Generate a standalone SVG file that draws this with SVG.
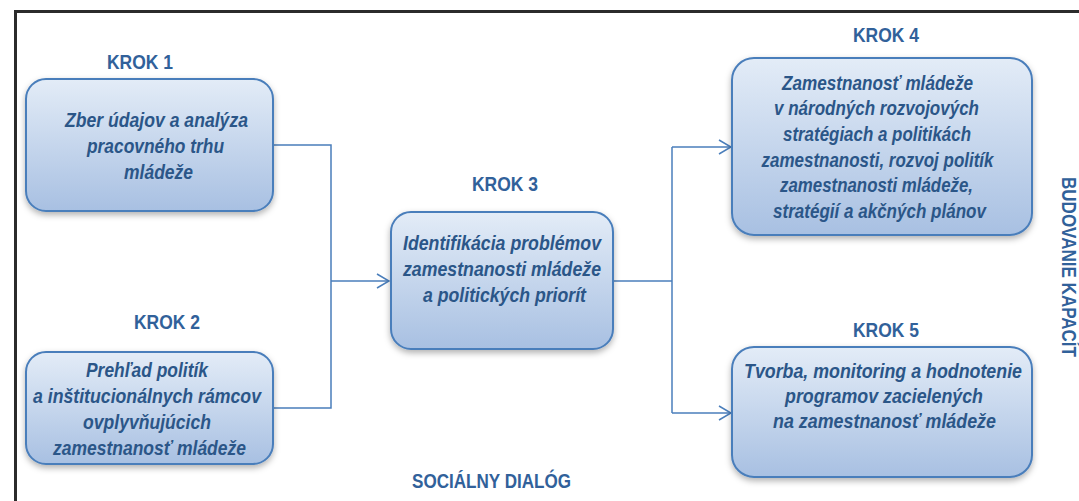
<svg xmlns="http://www.w3.org/2000/svg" width="1079" height="501" viewBox="0 0 1079 501">
<style>
.box{fill:url(#g);stroke:#4a7ebb;stroke-width:2;filter:url(#sh)}
.t{font-family:"Liberation Sans",Arial,sans-serif;font-weight:bold;font-style:italic;font-size:19.5px;fill:#2b5688;text-anchor:middle}
.k{font-family:"Liberation Sans",Arial,sans-serif;font-weight:bold;font-size:21px;fill:#31619a;text-anchor:middle}
.c{fill:none;stroke:#4a7ebb;stroke-width:1.5}
</style>
<defs>
<linearGradient id="g" x1="0" y1="0" x2="0" y2="1">
<stop offset="0" stop-color="#e3ecf7"/>
<stop offset="1" stop-color="#a8c0e2"/>
</linearGradient>
<filter id="sh" x="-10%" y="-10%" width="120%" height="130%">
<feDropShadow dx="0" dy="3" stdDeviation="3" flood-color="#000" flood-opacity="0.3"/>
</filter>
<marker id="a" viewBox="0 0 14 16" refX="13" refY="8" markerWidth="14" markerHeight="16" markerUnits="userSpaceOnUse" orient="auto">
<path d="M1,1 L13,8 L1,15" fill="none" stroke="#4a7ebb" stroke-width="1.5"/>
</marker>
</defs>
<rect width="1079" height="501" fill="#fff"/>
<path d="M15.5,501 V11.5 H1079" fill="none" stroke="#2b2b2b" stroke-width="3"/>
<g id="connectors">
<path class="c" d="M273,145 H331 V408 H273"/>
<path class="c" d="M331,281 H389" marker-end="url(#a)"/>
<path class="c" d="M613,281 H672"/>
<path class="c" d="M672,147 V413"/>
<path class="c" d="M672,147 H731" marker-end="url(#a)"/>
<path class="c" d="M672,413 H731" marker-end="url(#a)"/>
</g>
<g id="krok1">
<text class="k" x="140" y="69" textLength="66" lengthAdjust="spacingAndGlyphs">KROK 1</text>
<rect class="box" x="26" y="79" width="247" height="132" rx="20"/>
<text class="t" x="156.5" y="127" textLength="183" lengthAdjust="spacingAndGlyphs">Zber údajov a analýza</text>
<text class="t" x="155.5" y="153" textLength="137" lengthAdjust="spacingAndGlyphs">pracovného trhu</text>
<text class="t" x="158.5" y="179" textLength="69" lengthAdjust="spacingAndGlyphs">mládeže</text>
</g>
<g id="krok2">
<text class="k" x="167" y="329" textLength="66" lengthAdjust="spacingAndGlyphs">KROK 2</text>
<rect class="box" x="26" y="352" width="247" height="112" rx="20"/>
<text class="t" x="147" y="377" textLength="122" lengthAdjust="spacingAndGlyphs">Prehľad politík</text>
<text class="t" x="147" y="403" textLength="228" lengthAdjust="spacingAndGlyphs">a inštitucionálnych rámcov</text>
<text class="t" x="147" y="429" textLength="128" lengthAdjust="spacingAndGlyphs">ovplyvňujúcich</text>
<text class="t" x="149.5" y="455" textLength="193" lengthAdjust="spacingAndGlyphs">zamestnanosť mládeže</text>
</g>
<g id="krok3">
<text class="k" x="505" y="191" textLength="66" lengthAdjust="spacingAndGlyphs">KROK 3</text>
<rect class="box" x="391" y="212" width="222" height="137" rx="20"/>
<text class="t" x="502" y="250" textLength="198" lengthAdjust="spacingAndGlyphs">Identifikácia problémov</text>
<text class="t" x="502" y="276" textLength="198" lengthAdjust="spacingAndGlyphs">zamestnanosti mládeže</text>
<text class="t" x="504.5" y="302" textLength="163" lengthAdjust="spacingAndGlyphs">a politických priorít</text>
</g>
<g id="krok4">
<text class="k" x="886" y="42" textLength="66" lengthAdjust="spacingAndGlyphs">KROK 4</text>
<rect class="box" x="732" y="58" width="300" height="177" rx="22"/>
<text class="t" x="877.5" y="90" textLength="191" lengthAdjust="spacingAndGlyphs">Zamestnanosť mládeže</text>
<text class="t" x="876.5" y="115" textLength="205" lengthAdjust="spacingAndGlyphs">v národných rozvojových</text>
<text class="t" x="877" y="141" textLength="188" lengthAdjust="spacingAndGlyphs">stratégiach a politikách</text>
<text class="t" x="877.5" y="167" textLength="232" lengthAdjust="spacingAndGlyphs">zamestnanosti, rozvoj politík</text>
<text class="t" x="876.5" y="192" textLength="193" lengthAdjust="spacingAndGlyphs">zamestnanosti mládeže,</text>
<text class="t" x="879.5" y="218" textLength="213" lengthAdjust="spacingAndGlyphs">stratégií a akčných plánov</text>
</g>
<g id="krok5">
<text class="k" x="886" y="337" textLength="66" lengthAdjust="spacingAndGlyphs">KROK 5</text>
<rect class="box" x="732" y="347" width="300" height="130" rx="22"/>
<text class="t" x="883" y="378" textLength="278" lengthAdjust="spacingAndGlyphs">Tvorba, monitoring a hodnotenie</text>
<text class="t" x="884" y="403" textLength="198" lengthAdjust="spacingAndGlyphs">programov zacielených</text>
<text class="t" x="884.5" y="428" textLength="223" lengthAdjust="spacingAndGlyphs">na zamestnanosť mládeže</text>
</g>
<g id="labels">
<text class="k" x="491.5" y="488" textLength="159" lengthAdjust="spacingAndGlyphs">SOCIÁLNY DIALÓG</text>
<text class="k" transform="translate(1062,267) rotate(90)" x="0" y="0" textLength="180" lengthAdjust="spacingAndGlyphs">BUDOVANIE KAPACÍT</text>
</g>
</svg>
